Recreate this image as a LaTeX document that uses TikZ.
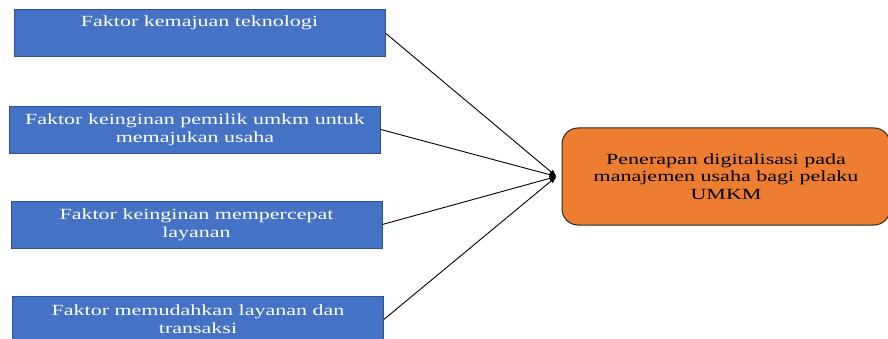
\documentclass[tikz,border=0pt]{standalone}
\usepackage{fontspec}
\usepackage{tikz}
\usetikzlibrary{arrows.meta}
\newfontfamily\diafont[FakeStretch=1.42]{Liberation Serif}
\definecolor{boxblue}{HTML}{4472C4}
\definecolor{boxedge}{HTML}{2F528F}
\definecolor{goalorange}{HTML}{ED7D31}
\tikzset{
  faktor/.style={rectangle,fill=boxblue,draw=boxedge,line width=0.6pt,
    minimum width=371pt,minimum height=47pt,inner sep=2pt,
    align=center,text=white,font=\diafont\fontsize{15.5}{18}\selectfont},
  goal/.style={rectangle,rounded corners=16pt,fill=goalorange,draw=black!85,
    line width=1pt,minimum width=328pt,minimum height=97pt,
    align=center,text=black,font=\diafont\fontsize{15.5}{17.5}\selectfont},
  link/.style={line width=0.9pt,-{Latex[length=7pt,width=6pt]}}
}
\begin{document}
\begin{tikzpicture}[x=1pt,y=-1pt]
\useasboundingbox (0,0) rectangle (888,339);
\clip (0,0) rectangle (888,339);
%left boxes
\node[faktor] (f1) at (199.5,33) {Faktor kemajuan teknologi\\ \strut};
\node[faktor] (f2) at (195,129.5) {Faktor keinginan pemilik umkm untuk\\ memajukan usaha};
\node[faktor] (f3) at (196.5,224.5) {Faktor keinginan mempercepat\\ layanan};
\node[faktor] (f4) at (198,319.5) {Faktor memudahkan layanan dan\\ transaksi};
%right box
\node[goal] (g) at (726,176.5) {Penerapan digitalisasi pada\\ manajemen usaha bagi pelaku\\ UMKM};
\coordinate (tip) at ([xshift=-5pt]g.west);
%arrows
\draw[link] (f1.east) -- (tip);
\draw[link] (f2.east) -- (tip);
\draw[link] (f3.east) -- (tip);
\draw[link] (f4.east) -- (tip);
\end{tikzpicture}
\end{document}
